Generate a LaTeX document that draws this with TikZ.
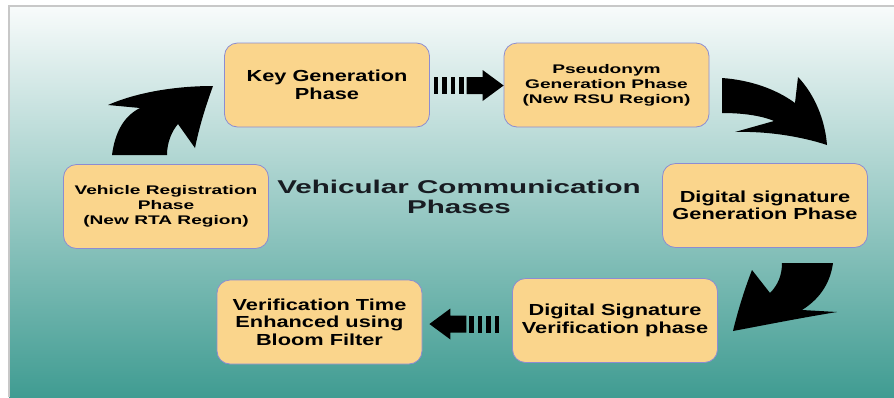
\documentclass[tikz,border=0pt]{standalone}
\usepackage{fontspec}
\setmainfont{Liberation Sans}
\newfontfamily\boxfont[FakeStretch=1.36]{Liberation Sans}
\newfontfamily\smallfont[FakeStretch=1.53]{Liberation Sans}
\newfontfamily\titlefont[FakeStretch=1.6]{Liberation Sans}
\usetikzlibrary{calc}

\definecolor{boxfill}{HTML}{FAD58C}
\definecolor{boxline}{HTML}{8C8CD2}
\definecolor{bgtop}{HTML}{F8FBFB}
\definecolor{bgbot}{HTML}{409C92}
\definecolor{frameline}{HTML}{C8C8C8}
\definecolor{titlecol}{HTML}{181C22}

\begin{document}
\begin{tikzpicture}[x=1pt,y=-1pt,
  phase/.style={draw=boxline, line width=0.8pt, fill=boxfill, rounded corners=13pt,
    minimum width=205pt, minimum height=84pt, align=center, inner sep=0pt, text=black},
  bigtext/.style={font=\boxfont\bfseries\fontsize{16}{17.5}\selectfont},
  smalltext/.style={font=\smallfont\bfseries\fontsize{12.5}{15}\selectfont},
  blockarrow/.style={fill=black, draw=none}]

\useasboundingbox (0,0) rectangle (894,397);
\fill[white] (0,0) rectangle (894,397);
% panel background
\shade[top color=bgtop, bottom color=bgbot] (9,6) rectangle (894,397);
\draw[frameline, line width=1.5pt] (9,397) -- (9,6) -- (894,6);

% phase boxes
\node[phase, bigtext]   (key)  at (327,85)     {Key Generation\\Phase};
\node[phase, smalltext] (pseu) at (606.5,85)   {Pseudonym\\Generation Phase\\(New RSU Region)};
\node[phase, smalltext] (veh)  at (166,206.5)  {Vehicle Registration\\Phase\\(New RTA Region)};
\node[phase, bigtext]   (dsg)  at (765,205.5)  {Digital signature\\Generation Phase};
\node[phase, bigtext]   (ver)  at (319.5,322)  {Verification Time\\Enhanced using\\Bloom Filter};
\node[phase, bigtext]   (dsv)  at (615,320.5)  {Digital Signature\\Verification phase};

% centre title
\node[font=\titlefont\bfseries\fontsize{18.5}{20.5}\selectfont, align=center, text=titlecol]
  (title) at (459,197) {Vehicular Communication\\Phases};

% striped block arrow: key -> pseudonym
\begin{scope}[shift={($(pseu.west)+(0,0.5)$)}]
  \fill[blockarrow] (0,0) -- (-21,-15.5) -- (-21,-8.5) -- (-37,-8.5)
    -- (-37,8.5) -- (-21,8.5) -- (-21,15.5) -- cycle;
  \foreach \s in {40,48.5,57,65.5}
    \fill[blockarrow] (-\s,-8.5) rectangle (-\s-4.3,8.5);
\end{scope}

% striped block arrow: signature verification -> bloom filter
\begin{scope}[shift={($(ver.east)+(7,2)$)}]
  \fill[blockarrow] (0,0) -- (21,-15.5) -- (21,-8.5) -- (37,-8.5)
    -- (37,8.5) -- (21,8.5) -- (21,15.5) -- cycle;
  \foreach \s in {40,48.5,57,65.5}
    \fill[blockarrow] (\s,-8.5) rectangle (\s+4.3,8.5);
\end{scope}

% curved arrow: registration -> key generation
\fill[blockarrow] (112,155) .. controls (115,132) and (124,116) .. (140,108)
  -- (108,105) .. controls (140,91) and (180,86) .. (213,86)
  .. controls (205,108) and (199,128) .. (195,148)
  -- (178,124) .. controls (172,131) and (167,142) .. (167,155) -- cycle;

% curved arrow: pseudonym -> signature generation
\fill[blockarrow] (722,78) .. controls (750,80) and (776,89) .. (795,103)
  -- (798,77) .. controls (815,95) and (825,120) .. (827,145)
  .. controls (800,136) and (765,131) .. (735,132)
  -- (774,121) .. controls (760,115) and (740,113) .. (722,113) -- cycle;

% curved arrow: signature generation -> signature verification
\fill[blockarrow] (782,263) -- (833,263) .. controls (830,285) and (818,300) .. (802,310)
  -- (837,312) .. controls (800,318) and (765,325) .. (733,331)
  .. controls (738,310) and (745,288) .. (752,270)
  -- (770,293) .. controls (778,285) and (782,275) .. (782,263) -- cycle;
\end{tikzpicture}
\end{document}
